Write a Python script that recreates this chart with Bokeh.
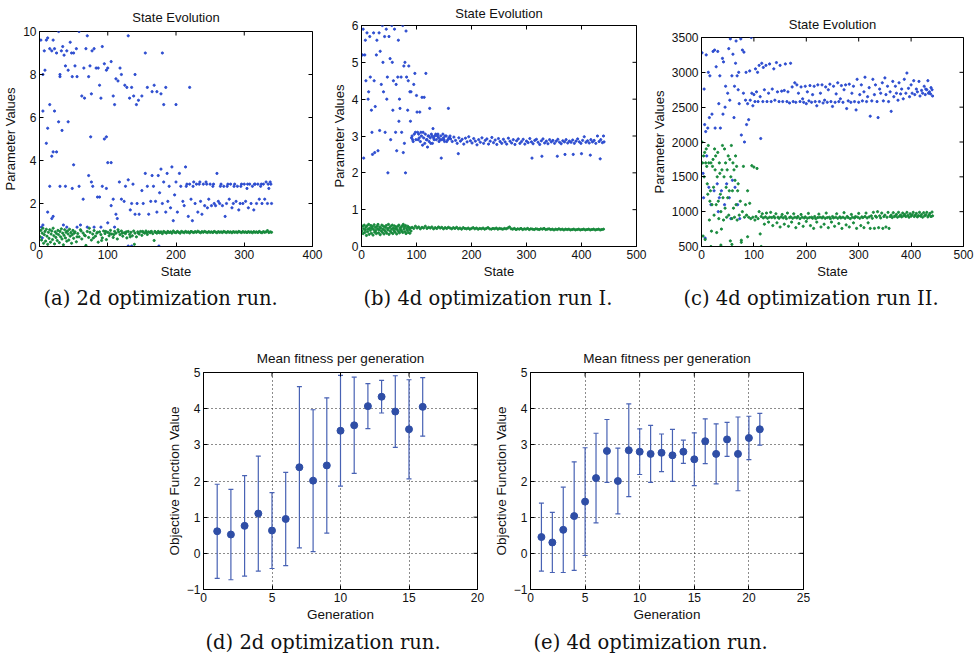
import math
from bokeh.plotting import figure
from bokeh.models import Range1d, FixedTicker, ColumnDataSource, Whisker, TeeHead, Title
from bokeh.layouts import column, row, Spacer
from bokeh.embed import file_html
from bokeh.resources import INLINE

# ---------------- data: panel (a) 2d run, state evolution ----------------
a_blue = [(2,9.6),(5,8.0),(7,9.1),(8,8.2),(10,9.6),(12,9.7),(15,9.2),(18,9.1),(20,9.6),(22,9.2),(25,9.0),(28,10.0),
          (30,8.0),(32,9.1),(34,9.3),(36,8.9),(38,8.4),(40,9.1),(42,8.2),(45,9.5),(47,9.0),(50,9.0),(52,8.4),(54,9.2),
          (48,7.9),(55,7.9),(58,10.0),(62,7.0),(65,8.3),(68,9.2),(70,9.8),(72,7.9),(74,8.4),(77,9.1),(80,9.2),(83,8.3),
          (86,8.3),(88,7.5),(90,6.9),(92,9.3),(95,8.5),(98,8.2),(100,8.3),(105,8.6),(108,7.0),(110,6.6),(112,7.8),
          (115,7.7),(118,8.3),(120,8.0),(125,7.5),(128,7.4),(130,9.8),(132,6.9),(135,7.4),(138,7.0),(140,8.0),(142,6.6),
          (145,6.8),(150,7.0),(155,9.0),(158,7.4),(165,7.2),(168,7.5),(172,7.2),(178,7.1),(180,9.0),(185,7.4),(182,6.6),
          (200,6.6),(220,7.4),(30,7.9),(76,7.1),(66,6.9),
          (5,6.3),(10,4.8),(12,5.5),(15,6.6),(18,4.2),(20,4.4),(22,6.3),(28,5.8),(33,5.4),(42,5.8),(50,3.8),(75,5.1),
          (95,5.0),(98,5.1),(100,3.9),(105,3.9),(25,4.4),
          (15,2.8),(30,2.8),(38,2.8),(48,2.7),(58,2.8),(64,2.2),(72,3.3),(76,3.0),(78,2.8),(85,2.3),(88,2.3),(92,2.8),
          (98,2.7),(105,1.9),(108,2.2),(112,1.5),(114,1.3),(117,3.0),(120,2.2),(124,2.1),(126,2.8),(130,3.1),(133,1.7),
          (135,2.0),(137,2.9),(140,1.5),(143,2.0),(146,1.5),(150,2.6),(152,2.0),(155,3.4),(158,2.8),(160,1.5),(163,2.1),
          (165,3.3),(167,2.8),(170,2.1),(172,1.6),(174,3.3),(176,2.5),(178,3.6),(180,2.0),(182,3.0),(185,1.6),(187,3.4),
          (188,2.1),(190,2.8),(192,1.8),(194,3.7),(196,1.2),(198,2.4),(200,3.0),(202,1.6),(205,3.4),(207,2.8),(210,2.1),
          (212,1.9),(214,3.7),(216,2.9),(218,1.4),(220,2.9),(222,2.2),(224,1.2),(226,3.0),(228,2.0),(230,2.9),(232,1.6),
          (234,2.9),(236,2.1),(238,1.5),(240,2.9),(242,1.9),(244,3.0),(246,1.8),(248,2.2),(250,2.9),(252,1.9),(254,2.8),
          (256,2.0),(258,1.9),(260,3.4),(262,2.1),(264,2.0),(266,2.9),(268,1.9),(270,2.8),(272,1.4),(274,2.0),(276,2.9),
          (278,2.2),(280,2.9),(282,1.8),(284,2.0),(286,2.9),(288,2.1),(290,2.8),(292,1.7),(294,2.0),(296,2.9),(298,2.0),
          (300,2.9),(302,2.1),(304,2.7),(306,1.8),(308,2.9),(310,2.0),(312,2.8),(314,1.7),(316,2.9),(318,2.0),(320,2.9),
          (322,2.2),(324,2.8),(326,2.0),(328,2.9),(330,2.2),(332,3.0),(334,2.0),(336,2.7),(338,3.0),(340,2.0),(339,2.9),
          (325,2.9),(305,2.9),(285,2.8),(265,2.8),(245,2.9),(225,2.8),(215,2.8),(235,3.0),(255,2.9),(275,2.8),(295,2.8),
          (315,2.9),(335,2.9),
          (5,1.0),(12,1.6),(18,1.3),(20,1.4),(35,1.0),(40,0.9),(55,0.9),(60,1.0),(70,0.9),(80,0.9),(90,0.9),(100,1.1),
          (110,0.9),(3,0.9),(4,0.4),(130,0.02),(135,0.02),(175,0.02)]
a_green = [(1,0.45),(2,0.75),(3,0.30),(4,0.62),(5,0.85),(6,0.15),(7,0.55),(8,0.70),(9,0.25),(10,0.80),(11,0.48),
           (12,0.10),(13,0.66),(14,0.38),(15,0.78),(16,0.20),(17,0.58),(18,0.72),(19,0.32),(20,0.85),(21,0.50),(22,0.12),
           (23,0.68),(24,0.42),(25,0.60),(26,0.28),(27,0.75),(28,0.55),(29,0.18),(30,0.70),(31,0.45),(32,0.82),(33,0.35),
           (34,0.62),(35,0.08),(36,0.52),(37,0.78),(38,0.40),(39,0.66),(40,0.25),(41,0.72),(42,0.58),(43,0.30),(44,0.80),
           (45,0.48),(46,0.65),(47,0.15),(48,0.55),(49,0.75),(50,0.38),(52,0.68),(54,0.22),(56,0.60),(58,0.45),(60,0.78),
           (62,0.35),(64,0.62),(66,0.52),(68,0.05),(70,0.70),(72,0.42),(74,0.66),(76,0.30),(78,0.58),(80,0.74),(82,0.48),
           (84,0.62),(86,0.20),(88,0.68),(90,0.55),(92,0.40),(94,0.72),(96,0.60),(98,0.32),(100,0.66),(102,0.50),
           (104,0.75),(106,0.58),(108,0.42),(110,0.70),(112,0.62),(114,0.35),(116,0.68),(118,0.55),(120,0.72),(122,0.48),
           (124,0.64),(126,0.60),(128,0.40),(130,0.70),(132,0.56),(134,0.66),(136,0.50),(138,0.72),(140,0.62),(142,0.45),
           (144,0.68),(146,0.58),(148,0.70),(150,0.52),(152,0.66),(154,0.62),(156,0.72),(158,0.56),(160,0.68),(162,0.64),
           (164,0.70),(166,0.60),(168,0.28),(170,0.66),(172,0.62),(174,0.70),(176,0.64),(178,0.68),(180,0.60),(182,0.70),
           (184,0.66),(186,0.62),(188,0.70),(190,0.65),(192,0.68),(194,0.62),(196,0.72),(198,0.66),(200,0.64),(202,0.70),
           (204,0.66),(206,0.62),(208,0.70),(210,0.67),(212,0.64),(214,0.70),(216,0.66),(218,0.68),(220,0.63),(222,0.70),
           (224,0.67),(226,0.65),(228,0.69),(230,0.66),(232,0.71),(234,0.67),(236,0.64),(238,0.69),(240,0.66),(242,0.70),
           (244,0.67),(246,0.65),(248,0.69),(250,0.66),(252,0.68),(254,0.65),(256,0.70),(258,0.67),(260,0.64),(262,0.69),
           (264,0.66),(266,0.68),(268,0.65),(270,0.70),(272,0.67),(274,0.65),(276,0.69),(278,0.66),(280,0.68),(282,0.64),
           (284,0.69),(286,0.66),(288,0.68),(290,0.65),(292,0.70),(294,0.67),(296,0.65),(298,0.69),(300,0.66),(302,0.68),
           (304,0.65),(306,0.69),(308,0.66),(310,0.68),(312,0.64),(314,0.69),(316,0.66),(318,0.68),(320,0.65),(322,0.70),
           (324,0.66),(326,0.64),(328,0.69),(330,0.66),(332,0.68),(334,0.74),(336,0.65),(338,0.68),(340,0.66),
           (51,0.62),(55,0.45),(61,0.72),(67,0.50),(73,0.85),(79,0.40),(85,0.66),(91,0.28),(97,0.70),(103,0.60),
           (109,0.55),(115,0.78),(121,0.62),(127,0.68),(133,0.45),(139,0.10),(145,0.62),(151,0.70),(157,0.65),
           (163,0.68),(169,0.70),(175,0.66)]

# ---------------- data: panel (b) 4d run I ----------------
b_blue = [(2,5.2),(3,5.9),(4,2.4),(6,5.2),(7,5.6),(8,4.5),(10,5.8),(12,4.0),(13,4.2),(15,5.7),(16,4.6),(18,3.7),
          (19,3.1),(20,2.5),(22,5.8),(23,4.5),(24,2.55),(25,3.8),(27,5.2),(28,5.6),(30,2.6),(32,5.8),(33,3.15),(34,5.3),
          (36,4.4),(38,6.0),(39,5.0),(40,4.2),(42,5.7),(43,3.1),(45,5.9),(46,4.0),(47,4.6),(48,2.0),(50,5.7),(52,5.1),
          (53,2.9),(55,6.0),(56,5.0),(57,3.7),(58,4.5),(60,5.9),(62,3.1),(63,4.4),(64,2.6),(66,4.6),(67,5.6),(68,3.4),
          (69,4.0),(70,3.75),(72,4.6),(73,3.1),(75,6.0),(76,2.55),(77,4.9),(78,2.8),(79,5.0),(80,2.0),(81,5.85),(82,4.6),
          (84,3.7),(85,4.5),(86,4.9),(88,4.2),(89,3.4),(90,4.2),(92,3.0),(93,2.9),(95,4.4),(97,4.7),(98,3.1),(100,4.1),
          (101,3.65),(103,2.9),(104,3.05),(106,3.65),(108,3.1),(110,4.05),(112,3.1),(114,4.05),(115,2.8),(117,4.7),
          (118,2.9),(120,2.7),(122,3.0),(124,3.75),(126,2.8),(128,3.0),(130,3.2),(132,2.9),(135,3.05),(138,3.0),
          (140,2.95),(143,2.9),(145,2.4),(148,3.05),(150,2.9),(152,3.0),(155,2.85),(158,3.75),(160,2.95),
          (91,2.95),(94,2.85),(96,3.05),(99,2.9),(102,3.1),(105,2.95),(107,2.85),(109,3.0),(111,2.75),(113,2.95),
          (116,3.05),(119,2.9),(121,3.0),(123,2.85),(125,2.95),(127,3.05),(129,2.8),(131,2.95),(133,3.0),(136,2.9),
          (139,3.05),(141,2.85),(144,3.0),(146,2.9),(149,2.95),(151,2.85),(154,3.0),(157,2.9),(159,2.95),(161,3.0),
          (162,2.92),(165,2.85),(168,2.97),(171,2.88),(174,2.80),(176,2.52),(177,2.95),(180,2.86),(183,2.91),(186,2.78),
          (189,2.94),(192,2.84),(195,2.98),(198,2.87),(201,2.81),(204,2.93),(207,2.86),(210,2.76),(213,2.90),(216,2.83),
          (219,2.95),(222,2.80),(225,2.88),(228,2.92),(231,2.78),(234,2.86),(237,2.96),(240,2.82),(243,2.89),(246,2.77),
          (249,2.93),(252,2.85),(255,2.80),(258,2.91),(261,2.84),(264,2.78),(267,2.94),(270,2.86),(273,2.81),(276,2.90),
          (279,2.77),(282,2.87),(285,2.92),(288,2.80),(291,2.85),(294,2.91),(297,2.78),(300,2.86),(303,2.82),(306,2.93),
          (309,2.84),(310,2.40),(312,2.79),(315,2.88),(318,2.91),(321,2.83),(324,2.77),(327,2.87),(328,2.45),(330,2.92),
          (333,2.81),(336,2.86),(339,2.79),(342,2.90),(345,2.84),(348,2.88),(351,2.80),(354,2.86),(356,2.45),(357,2.91),
          (360,2.83),(363,2.79),(366,2.87),(369,2.84),(370,2.50),(372,2.90),(375,2.81),(378,2.86),(381,2.83),(384,2.89),
          (385,2.50),(387,2.80),(390,2.86),(393,2.92),(396,2.84),(399,2.80),(400,2.52),(402,2.88),(405,2.98),(408,2.83),
          (411,2.87),(414,2.81),(416,2.48),(417,2.90),(420,2.84),(423,2.88),(426,2.80),(429,3.00),(432,2.85),(434,2.38),
          (435,2.90),(438,2.82),(440,3.00),(441,2.84)]
b_green = [(1,0.42),(2,0.55),(3,0.35),(4,0.48),(5,0.58),(6,0.38),(7,0.45),(8,0.52),(9,0.30),(10,0.56),(11,0.40),
           (12,0.47),(13,0.60),(14,0.33),(15,0.50),(16,0.44),(17,0.57),(18,0.36),(19,0.49),(20,0.54),(21,0.31),(22,0.46),
           (23,0.59),(24,0.39),(25,0.52),(26,0.43),(27,0.35),(28,0.55),(29,0.48),(30,0.60),(31,0.37),(32,0.45),(33,0.53),
           (34,0.32),(35,0.50),(36,0.42),(37,0.58),(38,0.38),(39,0.47),(40,0.55),(41,0.34),(42,0.44),(43,0.52),(44,0.40),
           (45,0.57),(46,0.36),(47,0.49),(48,0.45),(49,0.60),(50,0.33),(51,0.51),(52,0.42),(53,0.55),(54,0.38),(55,0.47),
           (56,0.58),(57,0.35),(58,0.50),(59,0.43),(60,0.56),(61,0.39),(62,0.48),(63,0.53),(64,0.34),(65,0.46),(66,0.55),
           (67,0.41),(68,0.58),(69,0.37),(70,0.50),(71,0.45),(72,0.52),(73,0.42),(74,0.56),(75,0.38),(76,0.60),(77,0.47),
           (78,0.53),(79,0.40),(80,0.57),(81,0.35),(82,0.49),(83,0.44),(84,0.55),(85,0.38),(86,0.52),(87,0.46),(88,0.36),
           (89,0.50),(90,0.42),
           (92,0.52),(95,0.49),(98,0.55),(101,0.50),(104,0.53),(107,0.48),(110,0.52),(113,0.50),(116,0.55),(119,0.49),
           (122,0.52),(125,0.50),(128,0.53),(131,0.48),(134,0.51),(137,0.49),(140,0.53),(143,0.50),(146,0.52),(149,0.48),
           (152,0.51),(155,0.49),(158,0.52),(161,0.50),(164,0.48),(167,0.51),(170,0.49),(173,0.52),(176,0.48),(179,0.50),
           (182,0.47),(185,0.51),(188,0.49),(191,0.48),(194,0.50),(197,0.47),(200,0.49),(203,0.51),(206,0.48),(209,0.50),
           (212,0.47),(215,0.49),(218,0.48),(221,0.50),(224,0.47),(227,0.49),(230,0.51),(233,0.48),(236,0.47),(239,0.49),
           (242,0.48),(245,0.50),(248,0.47),(251,0.49),(254,0.48),(257,0.47),(260,0.49),(263,0.48),(266,0.50),(269,0.53),
           (272,0.48),(275,0.47),(278,0.49),(281,0.46),(284,0.48),(287,0.47),(290,0.49),(293,0.46),(296,0.48),(299,0.47),
           (302,0.49),(305,0.46),(308,0.48),(311,0.47),(314,0.46),(317,0.48),(320,0.47),(323,0.46),(326,0.48),(329,0.47),
           (332,0.49),(335,0.46),(338,0.47),(341,0.48),(344,0.46),(347,0.47),(350,0.45),(353,0.47),(356,0.46),(359,0.48),
           (362,0.46),(365,0.47),(368,0.45),(371,0.47),(374,0.46),(377,0.47),(380,0.45),(383,0.46),(386,0.47),(389,0.45),
           (392,0.46),(395,0.47),(398,0.45),(401,0.46),(404,0.47),(407,0.45),(410,0.46),(413,0.47),(416,0.45),(419,0.46),
           (422,0.47),(425,0.45),(428,0.46),(431,0.47),(434,0.45),(437,0.46),(440,0.47)]

# ---------------- data: panel (c) 4d run II ----------------
c_blue = [(1,3280),(3,1550),(4,1200),(5,2760),(6,2250),(7,620),(8,2150),(9,3250),(10,1800),(12,2200),(13,3000),
          (14,1350),(15,2350),(16,2950),(18,1100),(20,2400),(22,3300),(24,1300),(25,3320),(26,2200),(28,3080),(30,1400),
          (31,3300),(32,1000),(33,2550),(34,1200),(35,2950),(36,2200),(38,1300),(40,3200),(41,2400),(42,3150),(44,1100),
          (45,2500),(46,2800),(48,1400),(50,2700),(52,3340),(53,1200),(54,2600),(55,3480),(56,900),(58,2950),(59,1450),
          (60,3260),(62,2350),(63,2800),(64,1350),(65,3130),(66,3450),(68,2950),(69,1100),(70,2750),(71,3000),(72,2550),
          (73,900),(75,3480),(76,2100),(78,3320),(80,2700),(81,3290),(82,2000),(84,2600),(85,3000),(86,2250),(88,2550),
          (90,2320),(92,3020),(93,2600),(95,3500),(96,2700),(98,2520),(100,2680),(102,2580),(103,3050),(105,2720),
          (107,3000),(108,2580),(110,3100),(112,2650),(113,2050),(115,3130),(117,2580),(118,3070),(120,2750),(123,3100),
          (125,2580),(128,2700),(130,3120),(133,2580),(135,2760),(138,3050),(140,2600),(143,3140),(145,2720),(148,2580),
          (150,3100),(153,2730),(155,2580),(158,2740),(160,3120),(163,2580),(165,2720),(168,2560),(170,3130),(173,2790),
          (175,2580),(178,2850),
          (180,2570),(182,2820),(185,2700),(188,2580),(190,2790),(193,2620),(195,2570),(198,2800),(200,2550),(202,2720),
          (205,2590),(207,2810),(210,2570),(212,2680),(215,2800),(217,2580),(220,2520),(222,2820),(225,2580),(227,2700),
          (230,2820),(232,2560),(235,2600),(237,2790),(240,2570),(242,2750),(245,2830),(247,2580),(250,2510),(252,2800),
          (255,2570),(257,2690),(260,2850),(262,2580),(265,2620),(267,2810),(270,2570),(272,2750),(275,2820),(277,2480),
          (280,2590),(282,2830),(285,2570),(287,2700),(290,2800),(292,2580),(295,2460),(297,2900),(300,2570),(302,2680),
          (305,2820),(307,2590),(310,2720),(312,2930),(315,2580),(317,2650),(320,2780),(322,2370),(325,2590),(327,2900),
          (330,2680),(332,2820),(335,2580),(337,2350),(340,2760),(342,2700),(345,2850),(347,2590),(350,2920),(352,2680),
          (355,2800),(357,2580),(360,2720),(362,2440),(365,2870),(367,2650),(370,2800),(372,2700),(375,2600),(377,2850),
          (380,2690),(382,2760),(385,2620),(387,2900),(390,2700),(392,2990),(395,2770),(397,2650),(400,2820),(402,2700),
          (405,2880),(407,2680),(410,2760),(412,2720),(415,2870),(417,2660),(420,2740),(422,2700),(425,2800),(427,2680),
          (430,2750),(432,2880),(435,2720),(437,2690),(440,2750),(441,2660),(438,2780),(433,2700),(428,2760)]
c_green = [(1,2000),(2,1700),(3,650),(4,1800),(5,1500),(6,1850),(7,600),(8,1700),(9,1900),(10,1650),(11,1400),
           (12,1250),(13,1950),(14,1700),(15,880),(16,1150),(17,1300),(18,1700),(19,720),(20,1100),(21,1650),(22,1750),
           (23,1350),(24,950),(25,1900),(26,1600),(27,1800),(28,1100),(29,700),(30,1500),(31,1850),(32,1150),(33,900),
           (34,1700),(35,1550),(36,1250),(37,1000),(38,750),(39,1600),(40,1950),(41,1200),(42,880),(43,1500),(44,1900),
           (45,1050),(46,1700),(47,1350),(48,920),(49,1600),(50,1200),(51,1800),(52,950),(53,1300),(54,1750),(55,580),
           (56,1500),(57,1950),(58,900),(59,1300),(60,1700),(61,1050),(62,1600),(63,920),(64,1450),(65,1800),(66,1100),
           (67,1650),(68,880),(69,1300),(70,1400),(72,950),(74,1150),(76,560),(78,1000),(80,1650),(82,920),(84,1100),
           (86,950),(88,1300),(90,920),(92,1120),(94,900),(96,1660),(98,920),(100,1640),(102,880),(104,930),(106,1620),
           (108,900),(110,1000),(112,680),(18,500),(37,520),(58,530),(76,590),(88,640),(114,500),
           (114,930),(116,970),(118,910),(120,820),(122,925),(124,980),(126,905),(128,850),(130,920),(132,990),(134,915),
           (136,800),(138,930),(140,910),(142,970),(144,840),(146,920),(148,905),(150,780),(152,925),(154,960),(156,910),
           (158,820),(160,930),(162,900),(164,980),(166,790),(168,915),(170,925),(172,850),(174,905),(176,970),(178,920),
           (180,770),(182,910),(184,930),(186,830),(188,900),(190,960),(192,920),(194,790),(196,910),(198,925),(200,860),
           (202,905),(204,975),(206,915),(208,800),(210,920),(212,905),(214,760),(216,930),(218,900),(220,850),(222,915),
           (224,965),(226,920),(228,780),(230,910),(232,925),(234,820),(236,905),(238,980),(240,915),(242,770),(244,920),
           (246,900),(248,850),(250,930),(252,910),(254,790),(256,920),(258,970),(260,905),(262,830),(264,925),(266,910),
           (268,760),(270,920),(272,985),(274,905),(276,810),(278,930),(280,915),(282,780),(284,900),(286,960),(288,920),
           (290,840),(292,910),(294,930),(296,760),(298,920),(300,975),(302,905),(304,800),(306,925),(308,915),(310,770),
           (312,930),(314,980),(316,910),(318,840),(320,925),(322,760),(324,940),(326,905),(328,990),(330,760),(332,935),
           (334,920),(336,1000),(338,770),(340,940),(342,910),(344,980),(346,760),(348,930),(350,950),(352,780),(354,920),
           (356,990),(358,760),(360,930),(362,950),(364,915),(366,985),(368,930),(370,940),(372,960),(374,920),(376,990),
           (378,935),(380,950),(382,925),(384,980),(386,940),(388,960),(390,930),(392,990),(394,945),(396,920),(398,970),
           (400,935),(402,955),(404,990),(406,930),(408,950),(410,975),(412,925),(414,945),(416,990),(418,935),(420,960),
           (422,920),(424,985),(426,940),(428,955),(430,990),(432,925),(434,950),(436,975),(438,930),(440,995),(441,940)]

# ---------------- data: panels (d), (e) mean fitness per generation ----------------
d_gen = [1, 2, 3, 4, 5, 6, 7, 8, 9, 10, 11, 12, 13, 14, 15, 16]
d_mean = [0.61, 0.52, 0.76, 1.10, 0.63, 0.95, 2.38, 2.01, 2.43, 3.39, 3.54, 4.07, 4.33, 3.92, 3.43, 4.05]
d_err = [1.30, 1.25, 1.39, 1.59, 1.05, 1.29, 2.23, 1.96, 1.87, 1.53, 1.33, 0.62, 0.45, 0.99, 1.37, 0.81]

e_gen = [1, 2, 3, 4, 5, 6, 7, 8, 9, 10, 11, 12, 13, 14, 15, 16, 17, 18, 19, 20, 21]
e_mean = [0.45, 0.30, 0.65, 1.03, 1.43, 2.08, 2.83, 2.00, 2.85, 2.81, 2.75, 2.78, 2.71, 2.81, 2.60, 3.10, 2.75,
          3.15, 2.75, 3.19, 3.43]
e_err = [0.94, 0.83, 1.18, 1.50, 1.49, 1.24, 0.87, 0.91, 1.28, 0.63, 0.79, 0.52, 0.72, 0.32, 0.73, 0.62, 0.83,
         0.47, 1.02, 0.60, 0.44]

BLUE = "#2c4cd0"
GREEN = "#178a3c"
EB = "#4862b4"
DOT = "#2f4ea6"
INK = "#111111"
SANS = "Liberation Sans"
SERIF = "DejaVu Serif"


def panel(W, H, bl, br, bt, bb, xr, yr, xt, yt, title, xlabel, ylabel, caption, cap_offset,
          grid=False, title_standoff=12, cap_standoff=6, lab_size="13px", title_size="13px"):
    p = figure(width=W, height=H, x_range=Range1d(*xr), y_range=Range1d(*yr),
               output_backend="svg", toolbar_location=None, title=title,
               min_border_left=bl, min_border_right=br, min_border_top=bt, min_border_bottom=bb)
    p.background_fill_color = "white"
    p.border_fill_color = "white"
    p.outline_line_color = "black"
    p.outline_line_width = 1
    p.title.align = "center"
    p.title.vertical_align = "middle"
    p.title.text_font = SANS
    p.title.text_font_size = title_size
    p.title.text_font_style = "normal"
    p.title.text_color = INK
    p.title.standoff = title_standoff
    xb, yl = p.below[0], p.left[0]
    for ax, ticks in ((xb, xt), (yl, yt)):
        ax.ticker = FixedTicker(ticks=ticks)
        ax.major_tick_in = 4
        ax.major_tick_out = 0
        ax.minor_tick_line_color = None
        ax.axis_line_color = "black"
        ax.major_tick_line_color = "black"
        ax.major_label_text_font = SANS
        ax.major_label_text_font_size = "12px"
        ax.major_label_text_color = INK
        ax.major_label_standoff = 3
        ax.axis_label_text_font = SANS
        ax.axis_label_text_font_size = lab_size
        ax.axis_label_text_font_style = "normal"
        ax.axis_label_text_color = INK
        ax.axis_label_standoff = 2
    xb.axis_label = xlabel
    yl.axis_label = ylabel
    yl.major_label_overrides = {-1: "\u22121"}
    # inward ticks on the top and right edges of the box
    p.scatter(xt, [yr[1]] * len(xt), marker="dash", angle=math.pi / 2, size=8, line_color="black", line_width=1)
    p.scatter([xr[1]] * len(yt), yt, marker="dash", size=8, line_color="black", line_width=1)
    if grid:
        for g, ticks in ((p.xgrid[0], xt), (p.ygrid[0], yt)):
            g.ticker = FixedTicker(ticks=ticks)
            g.grid_line_color = "black"
            g.grid_line_dash = "1 3"
            g.grid_line_alpha = 0.9
    else:
        p.xgrid.grid_line_color = None
        p.ygrid.grid_line_color = None
    p.add_layout(Title(text=caption, align="left", offset=cap_offset, text_font=SERIF,
                       text_font_size="19.5px", text_font_style="normal", text_color=INK,
                       standoff=cap_standoff), "below")
    return p


def scatter_panel(p, blue, green):
    p.scatter([q[0] for q in blue], [q[1] for q in blue], size=2.2, color=BLUE, marker="circle")
    p.scatter([q[0] for q in green], [q[1] for q in green], size=2.2, color=GREEN, marker="circle")


def err_panel(p, gen, mean, err):
    src = ColumnDataSource(dict(x=gen, y=mean,
                                lo=[m - e for m, e in zip(mean, err)],
                                hi=[m + e for m, e in zip(mean, err)]))
    w = Whisker(source=src, base="x", lower="lo", upper="hi", line_color=EB, line_width=1.2,
                lower_head=TeeHead(size=5, line_color=EB, line_width=1.2),
                upper_head=TeeHead(size=5, line_color=EB, line_width=1.2))
    p.add_layout(w)
    p.scatter("x", "y", source=src, size=7, color=DOT, marker="circle")


TOP_H = 312
BOT_H = 350

pa = panel(324, TOP_H, 39, 12, 31, TOP_H - 247, (0, 400), (0, 10), [0, 100, 200, 300, 400],
           [0, 2, 4, 6, 8, 10], "State Evolution", "State", "Parameter Values", "(a)  2d optimization run.", 4,
           title_standoff=12)
scatter_panel(pa, a_blue, a_green)

pb = panel(324, TOP_H, 37, 12, 25, TOP_H - 247, (0, 500), (0, 6), [0, 100, 200, 300, 400, 500],
           [0, 1, 2, 3, 4, 5, 6], "State Evolution", "State", "Parameter Values", "(b)  4d optimization run I.", 2,
           title_standoff=8)
scatter_panel(pb, b_blue, b_green)

pc = panel(326, TOP_H, 53, 11, 37, TOP_H - 247, (0, 500), (500, 3500), [0, 100, 200, 300, 400, 500],
           [500, 1000, 1500, 2000, 2500, 3000, 3500], "State Evolution", "State", "Parameter Values",
           "(c)  4d optimization run II.", -18, title_standoff=10)
scatter_panel(pc, c_blue, c_green)

pd_ = panel(330, BOT_H, 43, 13, 60, BOT_H - 278, (0, 20), (-1, 5), [0, 5, 10, 15, 20],
            [-1, 0, 1, 2, 3, 4, 5], "Mean fitness per generation", "Generation", "Objective Function Value",
            "(d)  2d optimization run.", 2, grid=True, title_standoff=12, cap_standoff=8, lab_size="13.5px",
            title_size="13.5px")
err_panel(pd_, d_gen, d_mean, d_err)

pe = panel(330, BOT_H, 40, 17, 60, BOT_H - 277, (0, 25), (-1, 5), [0, 5, 10, 15, 20, 25],
           [-1, 0, 1, 2, 3, 4, 5], "Mean fitness per generation", "Generation", "Objective Function Value",
           "(e)  4d optimization run.", 3, grid=True, title_standoff=12, cap_standoff=8, lab_size="13.5px",
           title_size="13.5px")
err_panel(pe, e_gen, e_mean, e_err)

# each plot in its own column so the row does not line up their frames
top = row(column(pa), column(pb), column(pc))
layout = column(top, row(Spacer(width=160, height=BOT_H), pd_, pe))

open("out.html", "w").write(file_html(layout, INLINE))
